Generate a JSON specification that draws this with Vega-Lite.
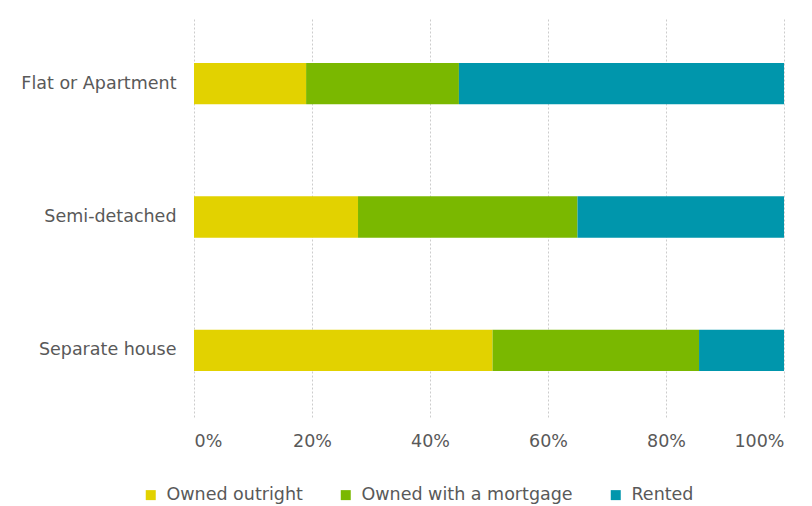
{
  "$schema": "https://vega.github.io/schema/vega-lite/v6.json",
  "width": 590,
  "height": 400,
  "autosize": {"type": "none"},
  "padding": {"left": 194, "top": 17, "right": 28, "bottom": 89},
  "background": "white",
  "config": {
    "view": {"stroke": null},
    "font": "DejaVu Sans",
    "axis": {"labelFont": "DejaVu Sans", "labelColor": "#595959", "labelFontSize": 17.5}
  },
  "data": {
    "values": [
      {"type": "Flat or Apartment", "tenure": "Owned outright", "share": 19.0, "o": 1},
      {"type": "Flat or Apartment", "tenure": "Owned with a mortgage", "share": 25.9, "o": 2},
      {"type": "Flat or Apartment", "tenure": "Rented", "share": 55.1, "o": 3},
      {"type": "Semi-detached", "tenure": "Owned outright", "share": 27.8, "o": 1},
      {"type": "Semi-detached", "tenure": "Owned with a mortgage", "share": 37.2, "o": 2},
      {"type": "Semi-detached", "tenure": "Rented", "share": 35.0, "o": 3},
      {"type": "Separate house", "tenure": "Owned outright", "share": 50.6, "o": 1},
      {"type": "Separate house", "tenure": "Owned with a mortgage", "share": 35.0, "o": 2},
      {"type": "Separate house", "tenure": "Rented", "share": 14.4, "o": 3}
    ]
  },
  "mark": {"type": "bar"},
  "encoding": {
    "y": {
      "field": "type",
      "type": "nominal",
      "sort": ["Flat or Apartment", "Semi-detached", "Separate house"],
      "scale": {"paddingInner": 0.69, "paddingOuter": 0.345},
      "axis": {"title": null, "domain": false, "ticks": false, "grid": false, "labelPadding": 18}
    },
    "x": {
      "field": "share",
      "type": "quantitative",
      "stack": "normalize",
      "scale": {"domain": [0, 1]},
      "axis": {
        "title": null,
        "format": "%",
        "values": [0, 0.2, 0.4, 0.6, 0.8, 1],
        "domain": false,
        "ticks": false,
        "grid": true,
        "gridColor": "#cccccc",
        "gridDash": [2, 2],
        "gridWidth": 1,
        "labelPadding": 15
      }
    },
    "color": {
      "field": "tenure",
      "type": "nominal",
      "sort": ["Owned outright", "Owned with a mortgage", "Rented"],
      "scale": {
        "domain": ["Owned outright", "Owned with a mortgage", "Rented"],
        "range": ["#e2d200", "#7ab800", "#0096ac"]
      },
      "legend": {
        "title": null,
        "orient": "none",
        "direction": "horizontal",
        "legendX": -52,
        "legendY": 469,
        "symbolType": "square",
        "symbolSize": 100,
        "symbolStrokeWidth": 0,
        "symbolOpacity": 1,
        "labelFont": "DejaVu Sans",
        "labelFontSize": 17.5,
        "labelColor": "#595959",
        "labelOffset": 7,
        "labelLimit": 400,
        "columnPadding": 34
      }
    },
    "order": {"field": "o", "type": "quantitative"}
  }
}
